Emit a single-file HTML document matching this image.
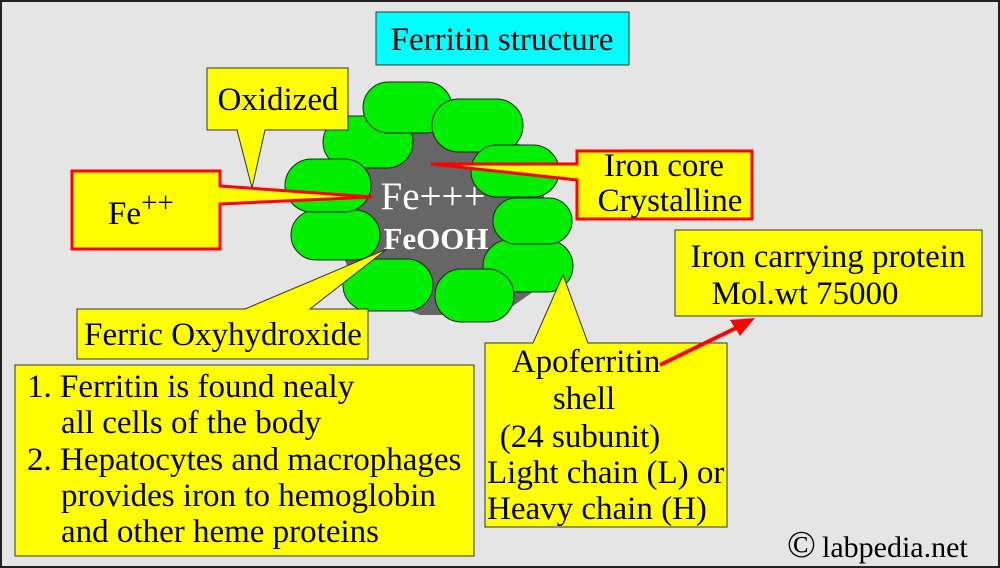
<!DOCTYPE html>
<html><head><meta charset="utf-8"><style>
body{margin:0;width:1000px;height:568px;overflow:hidden;background:#e5e5e5}
svg{display:block}
text{font-family:"Liberation Serif",serif;fill:#000}
</style></head><body>
<svg width="1000" height="568" viewBox="0 0 1000 568">
<rect x="1" y="1" width="998" height="566" fill="#e5e5e5" stroke="#222" stroke-width="2"/>
<!-- title -->
<rect x="376" y="12" width="253" height="53" fill="#00ffff" stroke="#333"/>
<text x="502" y="50" font-size="33" text-anchor="middle">Ferritin structure</text>
<!-- core -->
<polygon points="365,140 420,120 470,118 530,150 545,200 550,280 500,315 420,315 355,290 335,230 345,170" fill="#666"/>
<g fill="#00ee00" stroke="#222" stroke-width="1">
<rect x="323" y="116" width="90" height="52" rx="26"/>
<rect x="363" y="82" width="89" height="51" rx="25.5"/>
<rect x="432" y="99" width="91" height="53" rx="26.5"/>
<rect x="471" y="145" width="88" height="52" rx="26"/>
<rect x="291" y="210" width="89" height="50" rx="25"/>
<rect x="285" y="159" width="86" height="53" rx="26.5"/>
<rect x="483" y="240" width="90" height="52" rx="26"/>
<rect x="493" y="198" width="79" height="46" rx="23"/>
<rect x="343" y="259" width="90" height="52" rx="26"/>
<rect x="435" y="269" width="79" height="53" rx="26.5"/>
</g>
<text x="433" y="209" font-size="39" style="fill:#fff" text-anchor="middle">Fe+++</text>
<text x="436" y="249" font-size="31" font-weight="bold" style="fill:#fff" text-anchor="middle">FeOOH</text>
<!-- oxidized -->
<polygon points="207,68 348,68 348,130 265,130 252,188 237,130 207,130" fill="#ffff00" stroke="#333"/>
<text x="278" y="110" font-size="33" text-anchor="middle">Oxidized</text>
<!-- Fe++ -->
<polygon points="72,171 220,171 220,186 372,197 220,204 220,249 72,249" fill="#ffff00" stroke="#f00" stroke-width="3"/>
<text x="108" y="224" font-size="33">Fe<tspan font-size="29" dy="-12">++</tspan></text>
<!-- iron core -->
<polygon points="577,151 752,151 752,219 577,219 577,180 431,164 577,164" fill="#ffff00" stroke="#f00" stroke-width="3"/>
<text x="664" y="176" font-size="33" text-anchor="middle">Iron core</text>
<text x="670" y="211" font-size="33" text-anchor="middle">Crystalline</text>
<!-- ferric oxy -->
<polygon points="77,309 245,309 387,249 310,309 368,309 368,359 77,359" fill="#ffff00" stroke="#333"/>
<text x="223" y="345" font-size="33" text-anchor="middle">Ferric Oxyhydroxide</text>
<!-- iron carrying -->
<rect x="675" y="230" width="307" height="86" fill="#ffff00" stroke="#333"/>
<text x="828" y="267" font-size="33" text-anchor="middle">Iron carrying protein</text>
<text x="805" y="304" font-size="33" text-anchor="middle">Mol.wt 75000</text>
<!-- apoferritin -->
<polygon points="485,343 533,343 563,275 588,343 727,343 727,527 485,527" fill="#ffff00" stroke="#333"/>
<text x="586" y="372" font-size="33" text-anchor="middle">Apoferritin</text>
<text x="584" y="409" font-size="33" text-anchor="middle">shell</text>
<text x="580" y="447" font-size="33" text-anchor="middle">(24 subunit)</text>
<text x="487" y="483" font-size="33">Light chain (L) or</text>
<text x="487" y="519" font-size="33">Heavy chain (H)</text>
<!-- arrow -->
<line x1="660" y1="365" x2="738" y2="327" stroke="#f00" stroke-width="4"/>
<polygon points="755,318 730,320 740,336" fill="#f00"/>
<!-- bottom left -->
<rect x="15" y="365" width="459" height="191" fill="#ffff00" stroke="#333"/>
<text font-size="33"><tspan x="27" y="397">1. Ferritin is found nealy</tspan><tspan x="61" y="433">all cells of the body</tspan><tspan x="27" y="470">2. Hepatocytes and macrophages</tspan><tspan x="61" y="506">provides iron to hemoglobin</tspan><tspan x="61" y="542">and other heme proteins</tspan></text>
<!-- copyright -->
<text x="787" y="557" font-size="38">©</text>
<text x="822" y="557" font-size="30">labpedia.net</text>
</svg>
</body></html>
